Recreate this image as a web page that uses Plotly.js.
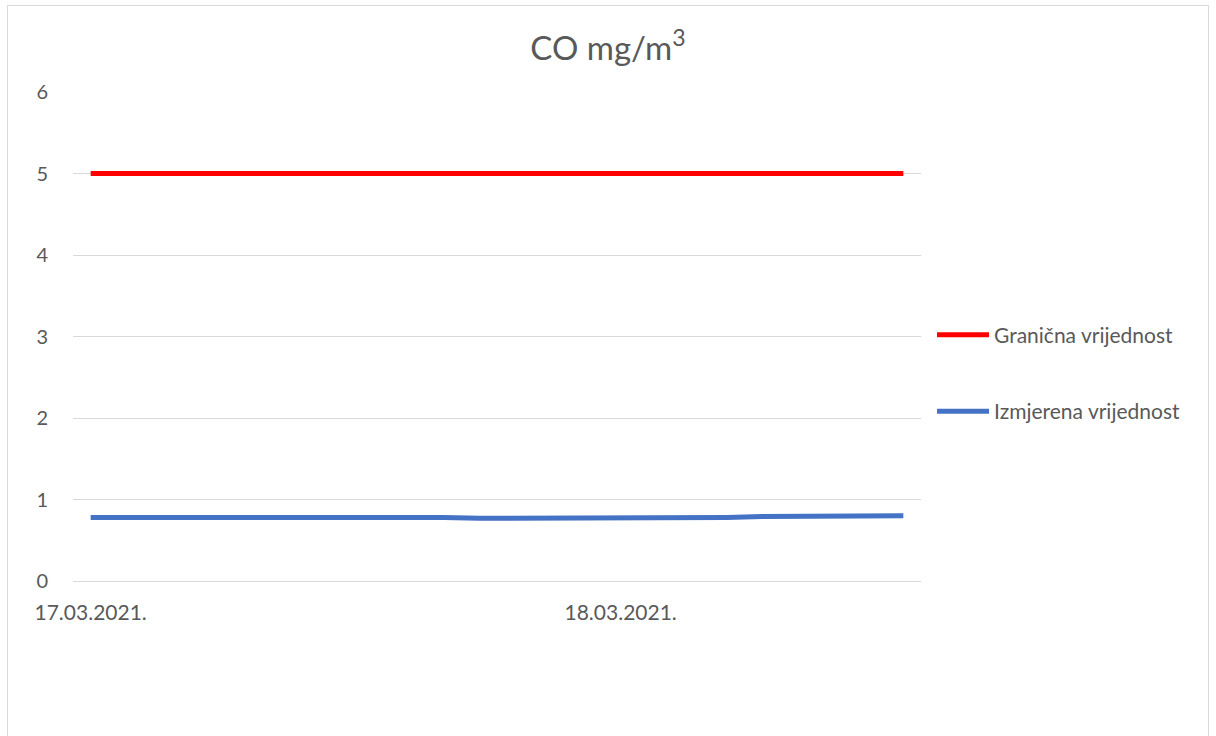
<!DOCTYPE html>
<html>
<head>
<meta charset="utf-8">
<script src="https://cdn.plot.ly/plotly-3.0.1.min.js"></script>
<style>
html,body{margin:0;padding:0;background:#fff;}
#frame{position:absolute;left:7px;top:5px;width:1202px;height:760px;border:1px solid #d9d9d9;box-sizing:border-box;}
#chart{position:absolute;left:0;top:0;width:1216px;height:736px;}
</style>
</head>
<body>
<div id="frame"></div>
<div id="chart"></div>
<script>
const categories = [
  "17.03.2021. 09:00","17.03.2021. 10:00","17.03.2021. 11:00","17.03.2021. 12:00",
  "17.03.2021. 13:00","17.03.2021. 14:00","17.03.2021. 15:00","17.03.2021. 16:00",
  "17.03.2021. 17:00","17.03.2021. 18:00","17.03.2021. 19:00","17.03.2021. 20:00",
  "17.03.2021. 21:00","17.03.2021. 22:00","17.03.2021. 23:00","18.03.2021. 00:00",
  "18.03.2021. 01:00","18.03.2021. 02:00","18.03.2021. 03:00","18.03.2021. 04:00",
  "18.03.2021. 05:00","18.03.2021. 06:00","18.03.2021. 07:00","18.03.2021. 08:00"
];
const measured = [0.78,0.78,0.79,0.79,0.79,0.79,0.78,0.78,0.78,0.79,0.78,0.77,
                  0.77,0.78,0.77,0.77,0.78,0.78,0.78,0.79,0.79,0.80,0.80,0.80];
const limitValue = 5;
const limit = categories.map(() => limitValue);
const tickCategories = ["17.03.2021. 09:00","18.03.2021. 00:00"];
const tickLabels = ["17.03.2021.","18.03.2021."];
const seriesNames = ["Granična vrijednost","Izmjerena vrijednost"];
const titleText = "CO mg/m<sup>3</sup>";

const font = "Lato, Open Sans, sans-serif";
const traces = [
  {x: categories, y: limit, type: "scatter", mode: "lines", name: seriesNames[0],
   legendgroup: "a", line: {color: "#FF0000", width: 5}},
  {x: categories, y: measured, type: "scatter", mode: "lines", name: seriesNames[1],
   legendgroup: "b", line: {color: "#4472C4", width: 5}}
];
const layout = {
  width: 1216, height: 736,
  paper_bgcolor: "rgba(0,0,0,0)", plot_bgcolor: "rgba(0,0,0,0)",
  margin: {l: 73, r: 295, t: 92, b: 155},
  font: {family: font, color: "#595959", size: 21},
  title: {text: titleText, x: 0.5, xref: "container", xanchor: "center", y: 0.95, yref: "container",
          font: {family: font, size: 33, color: "#595959"}},
  xaxis: {type: "category", range: [-0.5, 23.5], tickmode: "array",
          tickvals: tickCategories, ticktext: tickLabels, showgrid: false,
          showline: false, zeroline: false, ticks: "", ticklabelstandoff: 17,
          tickfont: {family: font, size: 21, color: "#595959"}},
  yaxis: {range: [0, 6], dtick: 1, showgrid: true, gridcolor: "#d9d9d9", gridwidth: 1,
          zeroline: true, zerolinecolor: "#d9d9d9", zerolinewidth: 1, showline: false,
          ticks: "", ticklabelstandoff: 24, fixedrange: true,
          tickfont: {family: font, size: 20, color: "#595959"}},
  showlegend: true,
  legend: {x: 1.013, xanchor: "left", y: 0.425, yanchor: "middle", tracegroupgap: 46,
           itemwidth: 52,
           font: {family: font, size: 21, color: "#595959"}, bgcolor: "rgba(0,0,0,0)"}
};
Plotly.newPlot("chart", traces, layout, {displayModeBar: false, staticPlot: true});
</script>
</body>
</html>
